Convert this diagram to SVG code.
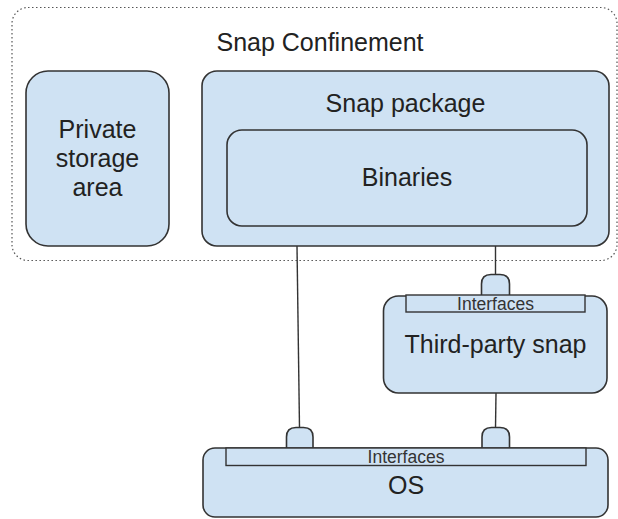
<svg xmlns="http://www.w3.org/2000/svg" width="618" height="519" viewBox="0 0 618 519">
<style>
.box{fill:#cfe2f3;stroke:#333;stroke-width:1.6}
.bar{fill:#cfe2f3;stroke:#333;stroke-width:1.4}
.t{font-family:"Liberation Sans",Arial,sans-serif;fill:#222;text-anchor:middle}
.big{font-size:25px}
.small{font-size:17.5px;fill:#333}
.conn{stroke:#333;stroke-width:1.4;fill:none}
</style>
<rect width="618" height="519" fill="#fff"/>
<g id="confinement">
<rect x="12" y="7.5" width="605" height="253" rx="16" fill="none" stroke="#555" stroke-width="1.2" stroke-dasharray="1.5,2.5"/>
<text class="t big" x="320" y="51">Snap Confinement</text>
</g>
<g id="private-storage">
<rect class="box" x="26" y="71" width="143" height="175" rx="22"/>
<text class="t big" x="97.5" y="138">Private</text>
<text class="t big" x="97.5" y="167">storage</text>
<text class="t big" x="97.5" y="196">area</text>
</g>
<g id="snap-package">
<rect class="box" x="202" y="71" width="407" height="175" rx="15"/>
<text class="t big" x="405.5" y="112">Snap package</text>
</g>
<g id="binaries">
<rect class="box" x="227" y="130" width="360" height="96" rx="15"/>
<text class="t big" x="407" y="186">Binaries</text>
</g>
<g id="connectors">
<line class="conn" x1="297" y1="246" x2="299.5" y2="428"/>
<line class="conn" x1="495.5" y1="246" x2="495.5" y2="275"/>
<line class="conn" x1="496" y1="393" x2="495.5" y2="428"/>
</g>
<g id="third-party-snap">
<path class="box" d="M481.5,296 V284 Q481.5,274.5 491,274.5 H500 Q509.5,274.5 509.5,284 V296"/>
<rect class="box" x="383.5" y="296" width="223.5" height="97" rx="15"/>
<rect class="bar" x="406" y="295" width="179" height="17"/>
<text class="t small" x="495.5" y="310">Interfaces</text>
<text class="t big" x="495.5" y="353">Third-party snap</text>
</g>
<g id="os">
<path class="box" d="M286.5,448 V437 Q286.5,427.5 296,427.5 H303.5 Q313,427.5 313,437 V448"/>
<path class="box" d="M482,448 V437 Q482,427.5 491.5,427.5 H500 Q509.5,427.5 509.5,437 V448"/>
<rect class="box" x="203" y="448" width="405" height="69" rx="12"/>
<rect class="bar" x="226" y="448" width="360" height="17.5"/>
<text class="t small" x="406" y="463">Interfaces</text>
<text class="t big" x="406" y="494">OS</text>
</g>
</svg>
